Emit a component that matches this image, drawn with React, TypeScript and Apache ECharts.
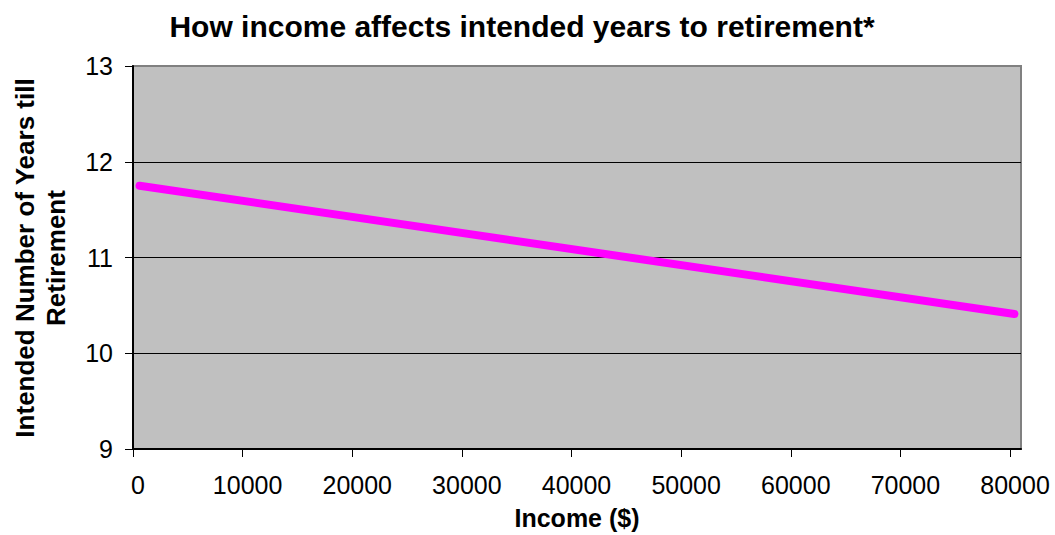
import React, { useEffect, useRef } from "react";
import * as echarts from "echarts";

const titleText = "How income affects intended years to retirement*";
const xAxisTitle = "Income ($)";
const yAxisTitle = "Intended Number of Years till\nRetirement";

const incomeValues = [600, 80400];
const yearsValues = [11.75, 10.41];

const xTicks = [0, 10000, 20000, 30000, 40000, 50000, 60000, 70000, 80000];
const yMin = 9;
const yMax = 13;

const FONT = "'Liberation Sans', Arial, sans-serif";

export default function App() {
  const ref = useRef<HTMLDivElement>(null);
  useEffect(() => {
    if (!ref.current) return;
    const chart = echarts.init(ref.current, undefined, { renderer: "svg" });
    chart.setOption({
      animation: false,
      backgroundColor: "#ffffff",
      textStyle: { fontFamily: FONT },
      grid: {
        left: 133,
        right: 34,
        top: 66,
        bottom: 81,
        show: true,
        backgroundColor: "#c0c0c0",
        borderColor: "#808080",
        borderWidth: 2,
      },
      graphic: [
        {
          type: "text",
          x: 522,
          y: 26,
          style: {
            text: titleText,
            fontFamily: FONT,
            fontWeight: "bold",
            fontSize: 30,
            fill: "#000",
            textAlign: "center",
            textVerticalAlign: "middle",
          },
        },
        {
          type: "text",
          x: 40,
          y: 258,
          rotation: Math.PI / 2,
          style: {
            text: yAxisTitle,
            fontFamily: FONT,
            fontWeight: "bold",
            fontSize: 26,
            lineHeight: 31,
            fill: "#000",
            textAlign: "center",
            textVerticalAlign: "middle",
          },
        },
      ],
      xAxis: {
        type: "value",
        min: 0,
        max: 81000,
        interval: 10000,
        name: xAxisTitle,
        nameLocation: "middle",
        nameGap: 56,
        nameTextStyle: { fontFamily: FONT, fontWeight: "bold", fontSize: 25, color: "#000" },
        axisLine: { show: true, lineStyle: { color: "#000", width: 2 } },
        axisTick: { show: true, length: 8, inside: false, customValues: xTicks, lineStyle: { color: "#000", width: 1 } },
        axisLabel: {
          customValues: xTicks,
          formatter: (v: number) => String(v),
          fontFamily: FONT,
          fontSize: 25,
          color: "#000",
          margin: 23,
          padding: [0, 0, 0, 10],
        },
        splitLine: { show: false },
      },
      yAxis: {
        type: "value",
        min: yMin,
        max: yMax,
        interval: 1,
        axisLine: { show: true, lineStyle: { color: "#000", width: 2 } },
        axisTick: { show: true, length: 8, inside: false, lineStyle: { color: "#000", width: 1 } },
        axisLabel: { fontFamily: FONT, fontSize: 25, color: "#000", margin: 20 },
        splitLine: {
          show: true,
          lineStyle: { color: ["#000", "#000", "#000", "#000", "#808080"], width: 1 },
        },
      },
      series: [
        {
          type: "line",
          data: incomeValues.map((x, i) => [x, yearsValues[i]]),
          showSymbol: false,
          symbol: "none",
          lineStyle: { color: "#ff00ff", width: 8, cap: "round" },
        },
      ],
    });
    return () => chart.dispose();
  }, []);
  return (
    <div
      ref={ref}
      style={{ position: "fixed", left: 0, top: 0, width: 1055, height: 535 }}
    />
  );
}
